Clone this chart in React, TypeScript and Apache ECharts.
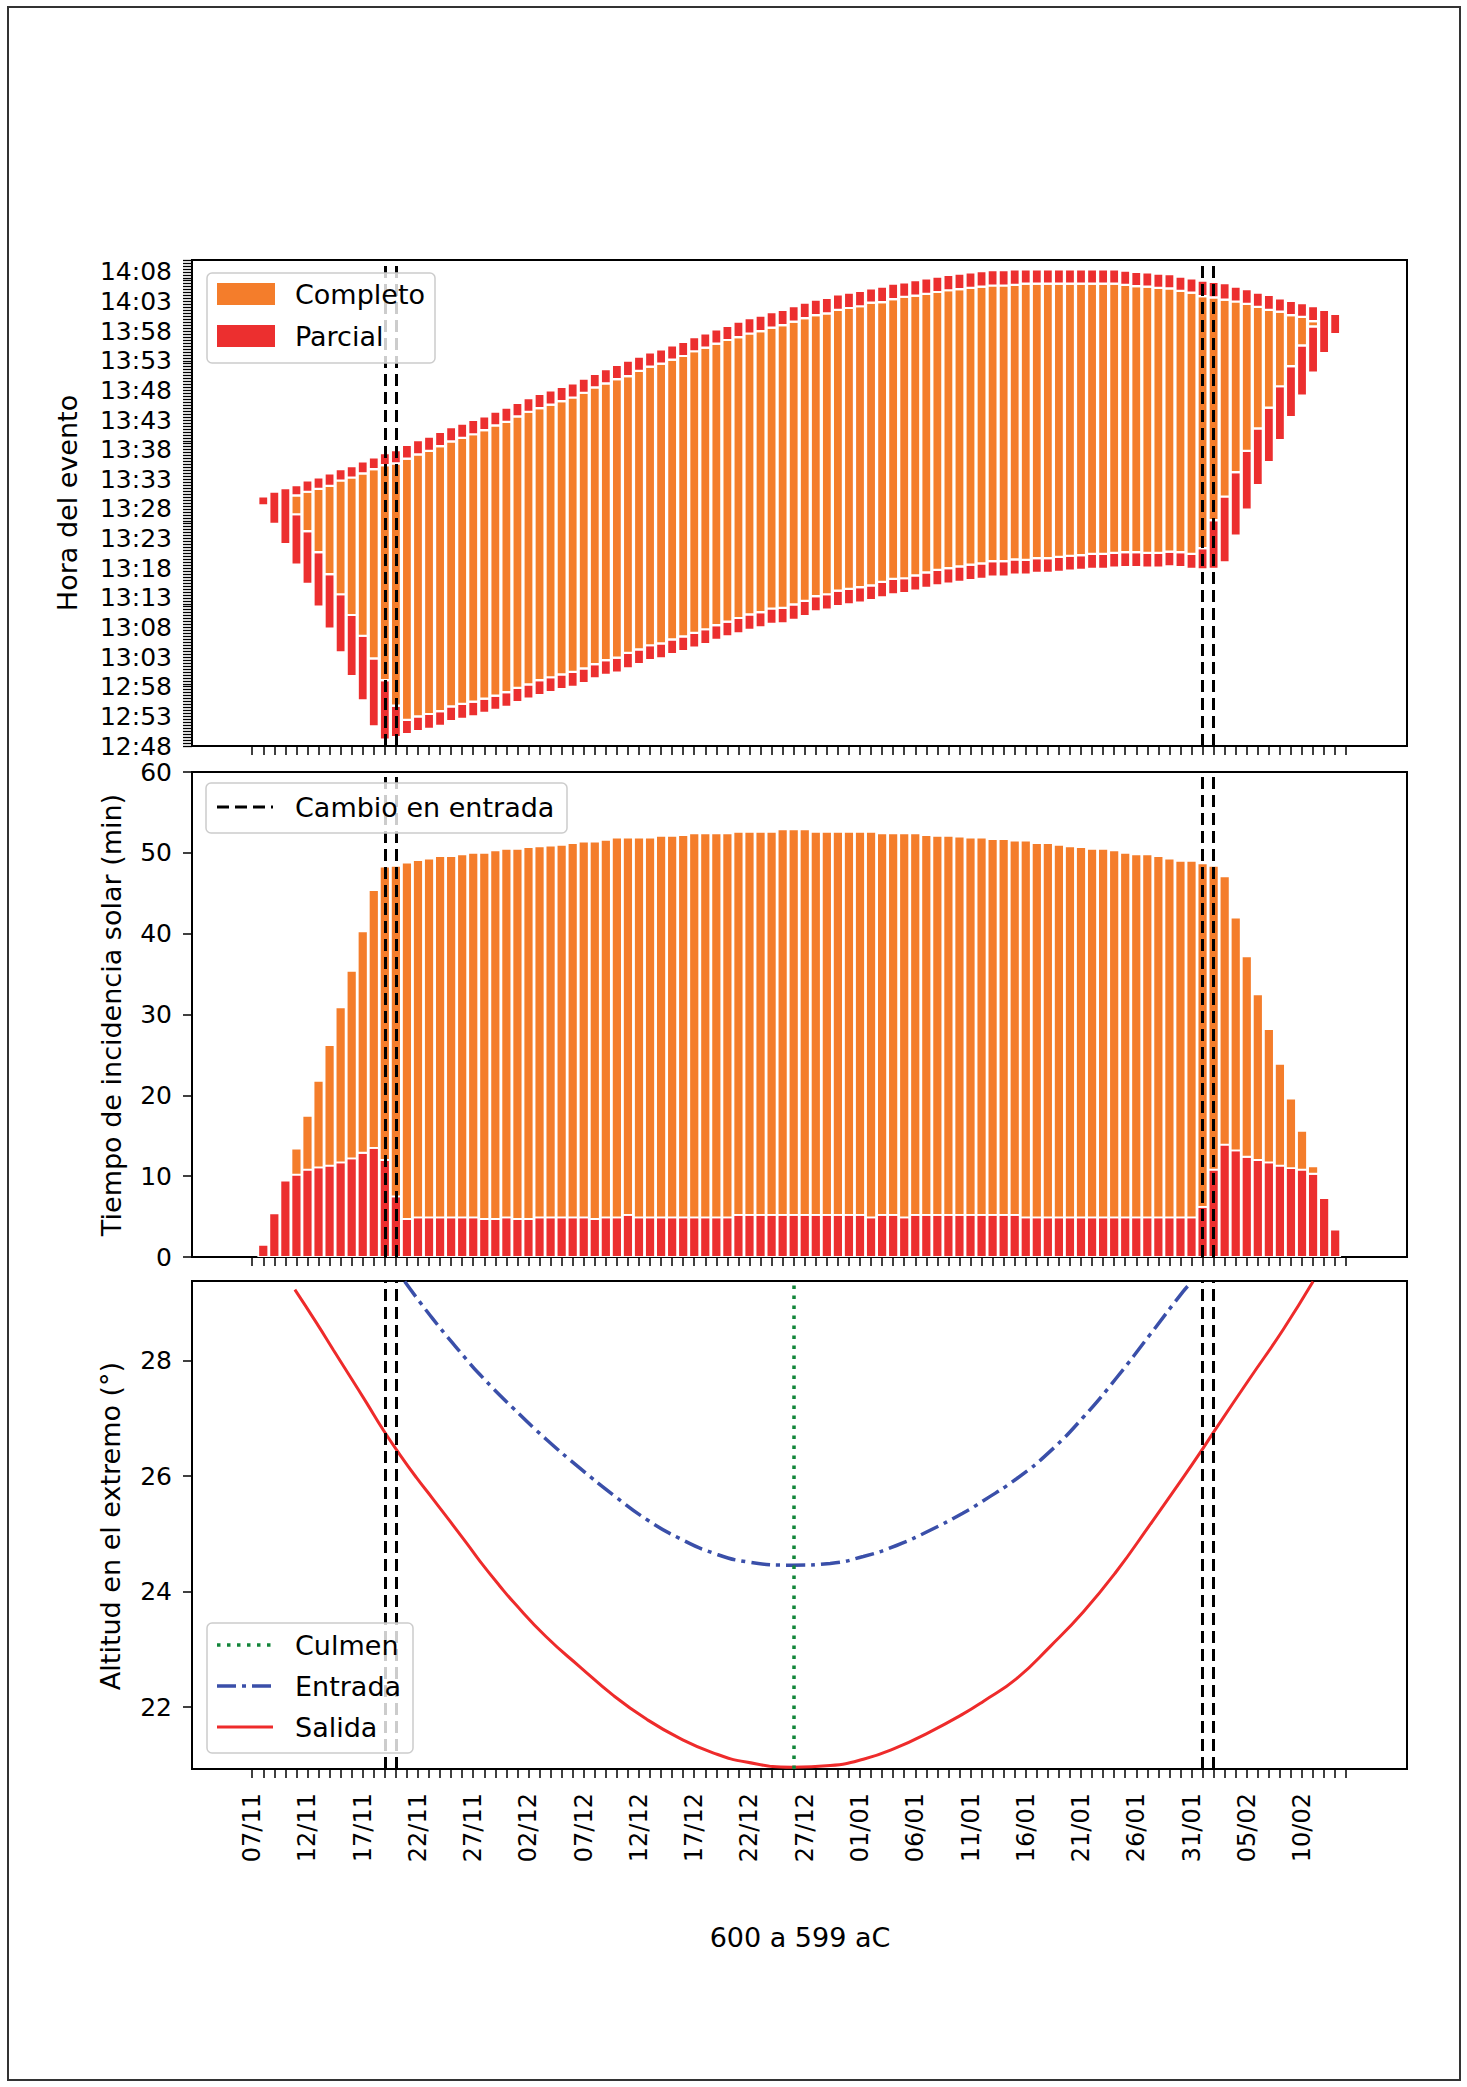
import React, { useEffect, useRef } from "react";
import * as echarts from "echarts";

const FONT = "DejaVu Sans";

// ---- x axis (days since 07/11) ----
const fechaLabels = [
  "07/11", "12/11", "17/11", "22/11", "27/11", "02/12", "07/12", "12/12", "17/12", "22/12",
  "27/12", "01/01", "06/01", "11/01", "16/01", "21/01", "26/01", "31/01", "05/02", "10/02",
];
const numTicksDias = 100;

// ---- y tick labels ----
const horaLabels = [
  "12:48", "12:53", "12:58", "13:03", "13:08", "13:13", "13:18", "13:23", "13:28",
  "13:33", "13:38", "13:43", "13:48", "13:53", "13:58", "14:03", "14:08",
];
const tiempoTicks = [0, 10, 20, 30, 40, 50, 60];
const altitudTicks = [22, 24, 26, 28];

// ---- panel 2: minutes of partial / complete incidence, days 1..98 ----
const parcial = [
  1.5, 5.4, 9.45, 10.2, 10.8, 11.1, 11.3, 11.7, 12.2, 12.9,
  13.5, 12.0, 7.5, 4.7, 4.9, 4.9, 4.9, 4.9, 4.9, 4.9,
  4.7, 4.7, 4.9, 4.7, 4.7, 4.9, 4.9, 4.9, 4.9, 4.9,
  4.7, 4.9, 4.9, 5.2, 4.9, 4.9, 4.9, 4.9, 4.9, 4.9,
  4.9, 4.9, 4.9, 5.2, 5.2, 5.2, 5.2, 5.2, 5.2, 5.2,
  5.2, 5.2, 5.2, 5.2, 5.2, 4.9, 5.2, 5.2, 4.9, 5.2,
  5.2, 5.2, 5.2, 5.2, 5.2, 5.2, 5.2, 5.2, 5.2, 4.9,
  4.9, 4.9, 4.9, 4.9, 4.9, 4.9, 4.9, 4.9, 4.9, 4.9,
  4.9, 4.9, 4.9, 4.9, 4.9, 6.2, 10.8, 13.9, 13.2, 12.4,
  12.0, 11.7, 11.3, 11.0, 10.8, 10.3, 7.3, 3.4,
];
const completo = [
  0, 0, 0, 3.2, 6.65, 10.7, 14.9, 19.2, 23.2, 27.4,
  31.9, 36.3, 40.9, 44.1, 44.2, 44.4, 44.7, 44.7, 44.9, 45.1,
  45.3, 45.6, 45.6, 45.8, 46.0, 45.9, 46.0, 46.1, 46.3, 46.5,
  46.7, 46.7, 47.0, 46.7, 47.0, 47.0, 47.2, 47.2, 47.3, 47.5,
  47.5, 47.5, 47.5, 47.4, 47.4, 47.4, 47.4, 47.7, 47.7, 47.7,
  47.4, 47.4, 47.4, 47.4, 47.4, 47.7, 47.2, 47.2, 47.5, 47.2,
  47.0, 46.9, 46.9, 46.8, 46.7, 46.7, 46.5, 46.5, 46.3, 46.6,
  46.3, 46.3, 46.1, 45.9, 45.8, 45.6, 45.6, 45.4, 45.1, 44.9,
  44.9, 44.7, 44.4, 44.1, 44.1, 42.5, 37.6, 33.2, 28.8, 24.8,
  20.5, 16.5, 12.6, 8.6, 4.8, 0.9, 0, 0,
];

// ---- panel 1: end time of the event (minutes after 12:00) and final partial block ----
const finEvento = [
  90.1, 90.9, 91.5, 92.0, 92.8, 93.3, 94.0, 94.7, 95.2, 96.0,
  96.7, 97.4, 97.9, 98.8, 99.6, 100.2, 101.0, 101.8, 102.4, 103.0,
  103.6, 104.4, 105.1, 105.9, 106.7, 107.4, 108.0, 108.6, 109.2, 110.0,
  110.8, 111.6, 112.3, 113.0, 113.7, 114.4, 114.9, 115.6, 116.2, 117.0,
  117.6, 118.3, 118.9, 119.6, 120.2, 120.6, 121.2, 121.6, 122.2, 122.8,
  123.3, 123.6, 124.2, 124.5, 124.8, 125.2, 125.5, 126.0, 126.2, 126.6,
  126.9, 127.2, 127.5, 127.7, 127.9, 128.1, 128.3, 128.3, 128.4, 128.4,
  128.4, 128.4, 128.4, 128.4, 128.4, 128.4, 128.4, 128.4, 128.2, 128.0,
  127.9, 127.7, 127.6, 127.2, 126.9, 126.5, 126.3, 126.1, 125.5, 125.1,
  124.5, 124.1, 123.5, 123.1, 122.7, 122.2, 121.6, 120.9,
];
const parcialFinal = [
  0, 0, 0, 1.7, 1.9, 1.9, 2.1, 1.9, 1.9, 2.0,
  2.0, 2.0, 2.2, 2.3, 2.4, 2.4, 2.4, 2.4, 2.4, 2.4,
  2.3, 2.3, 2.4, 2.3, 2.3, 2.4, 2.4, 2.4, 2.4, 2.4,
  2.3, 2.4, 2.4, 2.6, 2.4, 2.4, 2.4, 2.4, 2.4, 2.4,
  2.4, 2.4, 2.4, 2.6, 2.6, 2.6, 2.6, 2.6, 2.6, 2.6,
  2.6, 2.6, 2.6, 2.6, 2.6, 2.4, 2.6, 2.6, 2.4, 2.6,
  2.6, 2.6, 2.6, 2.6, 2.6, 2.6, 2.6, 2.6, 2.6, 2.4,
  2.4, 2.4, 2.4, 2.4, 2.4, 2.4, 2.4, 2.4, 2.4, 2.4,
  2.4, 2.4, 2.4, 2.4, 2.4, 2.6, 2.6, 2.8, 2.5, 2.5,
  2.4, 2.5, 2.2, 2.4, 2.3, 2.5, 0, 0,
];

// ---- panel 3: altitude at the extreme (degrees), [day, value] ----
const salida: [number, number][] = [
  [3.86, 29.23], [5.83, 28.65], [7.33, 28.19], [8.84, 27.73], [10.35, 27.27], [11.86, 26.8],
  [13.37, 26.37], [14.88, 25.97], [16.38, 25.6], [19.4, 24.84], [20.6, 24.53], [22.4, 24.1],
  [23.6, 23.83], [26.6, 23.22], [29.65, 22.7], [32.7, 22.2], [35.7, 21.79], [38.7, 21.46],
  [41.7, 21.21], [44.7, 21.05], [48.9, 20.96], [52.3, 20.99], [55.3, 21.1], [58.3, 21.3],
  [61.3, 21.57], [64.3, 21.88], [66.15, 22.1], [69.2, 22.5], [72.2, 23.05], [75.2, 23.65],
  [78.2, 24.35], [81.2, 25.15], [84.25, 25.98], [86.1, 26.5], [87.3, 26.85], [90.3, 27.7],
  [93.3, 28.54], [96.0, 29.37],
];
const entrada: [number, number][] = [
  [13.8, 29.37], [16.4, 28.71], [19.4, 28.02], [20.6, 27.76], [23.6, 27.18], [26.6, 26.64],
  [29.65, 26.14], [32.7, 25.67], [35.7, 25.25], [38.7, 24.92], [41.7, 24.67], [44.7, 24.52],
  [48.9, 24.46], [52.3, 24.49], [55.3, 24.61], [58.3, 24.8], [61.3, 25.06], [64.3, 25.36],
  [66.2, 25.58], [69.2, 25.96], [72.2, 26.43], [75.2, 27.02], [78.2, 27.7], [81.2, 28.44],
  [84.25, 29.2], [85.0, 29.36],
];
const cambioEntrada = [12, 13, 86, 87];
const culmen = 49;

const ORANGE = "#f47d2b";
const RED = "#ec2f2f";
const LINE_RED = "#ee2b2b";
const BLUE = "#3a4fa9";
const GREEN = "#12853a";

const X_MIN = -5.45;
const X_MAX = 104.5;
const Y1_MIN = 48;
const Y1_MAX = 130;
const Y3_MIN = 20.93;
const Y3_MAX = 29.38;
const BAR_W = 10;

const GRIDS = [
  { left: 192, top: 260, width: 1215, height: 486 },
  { left: 192, top: 772, width: 1215, height: 485 },
  { left: 192, top: 1281, width: 1215, height: 488 },
];

const horaAMin = (s: string) => {
  const [h, m] = s.split(":").map(Number);
  return (h - 12) * 60 + m;
};

const barRender = (color: string, edge: number) => (_params: any, api: any) => {
  const d = api.value(0);
  const lo = api.value(1);
  const hi = api.value(2);
  if (!(hi - lo > 0)) return null;
  const a = api.coord([d, lo]);
  const b = api.coord([d, hi]);
  return {
    type: "rect",
    shape: { x: a[0] - BAR_W / 2, y: b[1], width: BAR_W, height: a[1] - b[1] },
    style: { fill: color, stroke: "#ffffff", lineWidth: edge },
  };
};

export default function App() {
  const ref = useRef<HTMLDivElement>(null);

  useEffect(() => {
    document.body.style.margin = "0";
    if (!ref.current) return;
    const chart = echarts.init(ref.current, undefined, { renderer: "svg" });

    const dias = parcial.map((_, i) => i + 1);
    const tickDias = Array.from({ length: numTicksDias }, (_, i) => i);
    const labelDias = fechaLabels.map((_, i) => i * 5);
    const horaVals = horaLabels.map(horaAMin);
    const y1Ticks: number[] = [];
    for (let v = Y1_MIN; v <= Y1_MAX + 1e-9; v += 0.5) y1Ticks.push(v);

    // panel 1 segment boundaries
    const t3 = finEvento;
    const t2 = finEvento.map((f, i) => f - parcialFinal[i]);
    const t1 = t2.map((v, i) => v - completo[i]);
    const t0 = finEvento.map((f, i) => f - completo[i] - parcial[i]);
    const seg = (lo: number[], hi: number[]) => dias.map((d, i) => [d, lo[i], hi[i]]);
    const total = parcial.map((p, i) => p + completo[i]);
    const zeros = parcial.map(() => 0);

    const txt = { fontFamily: FONT, color: "#000" };

    const xAxis = (i: number, showLabels: boolean) => ({
      type: "value",
      gridIndex: i,
      min: X_MIN,
      max: X_MAX,
      axisLine: { show: true, onZero: false, lineStyle: { color: "#000", width: 2 } },
      axisTick: {
        show: true,
        customValues: tickDias,
        length: 9,
        lineStyle: { color: "#000", width: 1.5 },
      },
      axisLabel: {
        show: showLabels,
        customValues: labelDias,
        rotate: 90,
        margin: 24,
        fontSize: 24,
        ...txt,
        formatter: (v: number) => fechaLabels[Math.round(v / 5)] ?? "",
      },
      splitLine: { show: false },
    });

    const yBase = (i: number) => ({
      type: "value",
      gridIndex: i,
      axisLine: { show: true, onZero: false, lineStyle: { color: "#000", width: 2 } },
      splitLine: { show: false },
    });

    const dashedLine = {
      silent: true,
      symbol: ["none", "none"],
      label: { show: false },
      emphasis: { disabled: true },
      lineStyle: { color: "#000", type: [12, 6], width: 3 },
      data: cambioEntrada.map((x) => ({ xAxis: x })),
    };

    const custom = (name: string, gi: number, color: string, edge: number, data: number[][]) => ({
      type: "custom",
      name,
      xAxisIndex: gi,
      yAxisIndex: gi,
      silent: true,
      clip: true,
      renderItem: barRender(color, edge),
      encode: { x: 0, y: [1, 2] },
      data,
    });

    const hiddenLine = (gi: number, values: number[]) => ({
      type: "line",
      xAxisIndex: gi,
      yAxisIndex: gi,
      silent: true,
      showSymbol: false,
      z: 5,
      lineStyle: { opacity: 0, width: 0 },
      data: dias.map((d, i) => [d, values[i]]),
      markLine: dashedLine,
    });

    const option: any = {
      animation: false,
      backgroundColor: "#fff",
      grid: GRIDS.map((g) => ({
        ...g,
        show: true,
        borderColor: "#000",
        borderWidth: 2,
        backgroundColor: "transparent",
        containLabel: false,
      })),
      xAxis: [xAxis(0, false), xAxis(1, false), xAxis(2, true)],
      yAxis: [
        {
          ...yBase(0),
          min: Y1_MIN,
          max: Y1_MAX,
          axisTick: { show: true, customValues: y1Ticks, length: 9, lineStyle: { color: "#000", width: 1.3 } },
          axisLabel: {
            customValues: horaVals,
            margin: 20,
            fontSize: 25,
            ...txt,
            formatter: (v: number) => {
              let best = 0;
              horaVals.forEach((h, k) => {
                if (Math.abs(h - v) < Math.abs(horaVals[best] - v)) best = k;
              });
              return horaLabels[best];
            },
          },
        },
        {
          ...yBase(1),
          min: 0,
          max: 60,
          axisTick: { show: true, customValues: tiempoTicks, length: 9, lineStyle: { color: "#000", width: 1.5 } },
          axisLabel: { customValues: tiempoTicks, margin: 20, fontSize: 25, ...txt },
        },
        {
          ...yBase(2),
          min: Y3_MIN,
          max: Y3_MAX,
          axisTick: { show: true, customValues: altitudTicks, length: 9, lineStyle: { color: "#000", width: 1.5 } },
          axisLabel: { customValues: altitudTicks, margin: 20, fontSize: 25, ...txt },
        },
      ],
      series: [
        // panel 1: time of the event
        custom("Parcial (inicio)", 0, RED, 2.2, seg(t0, t1)),
        custom("Completo", 0, ORANGE, 2.2, seg(t1, t2)),
        custom("Parcial (fin)", 0, RED, 2.2, seg(t2, t3)),
        hiddenLine(0, t3),
        // panel 2: durations
        custom("Parcial", 1, RED, 1.8, seg(zeros, parcial)),
        custom("Completo (min)", 1, ORANGE, 1.8, seg(parcial, total)),
        hiddenLine(1, total),
        // panel 3: altitudes
        {
          type: "line",
          name: "Entrada",
          xAxisIndex: 2,
          yAxisIndex: 2,
          data: entrada,
          showSymbol: false,
          smooth: 0.5,
          clip: true,
          silent: true,
          lineStyle: { color: BLUE, width: 3.5, type: [19, 6, 4, 6] },
        },
        {
          type: "line",
          name: "Salida",
          xAxisIndex: 2,
          yAxisIndex: 2,
          data: salida,
          showSymbol: false,
          smooth: 0.5,
          clip: true,
          silent: true,
          lineStyle: { color: LINE_RED, width: 3 },
          markLine: {
            ...dashedLine,
            data: [
              ...cambioEntrada.map((x) => ({ xAxis: x })),
              { xAxis: culmen, lineStyle: { color: GREEN, type: [3.5, 6.5], width: 3.5 } },
            ],
          },
        },
      ],
      graphic: [
        {
          type: "rect",
          z: 50,
          silent: true,
          shape: { x: 8, y: 7, width: 1452, height: 2073 },
          style: { fill: "none", stroke: "#333", lineWidth: 2 },
        },
        {
          type: "text",
          z: 50,
          x: 67,
          y: 503,
          rotation: Math.PI / 2,
          style: { text: "Hora del evento", fontFamily: FONT, fontSize: 27, fill: "#000", align: "center", verticalAlign: "middle", textAlign: "center", textVerticalAlign: "middle" },
        },
        {
          type: "text",
          z: 50,
          x: 111,
          y: 1015,
          rotation: Math.PI / 2,
          style: { text: "Tiempo de incidencia solar (min)", fontFamily: FONT, fontSize: 27, fill: "#000", align: "center", verticalAlign: "middle", textAlign: "center", textVerticalAlign: "middle" },
        },
        {
          type: "text",
          z: 50,
          x: 110,
          y: 1526,
          rotation: Math.PI / 2,
          style: { text: "Altitud en el extremo (°)", fontFamily: FONT, fontSize: 27, fill: "#000", align: "center", verticalAlign: "middle", textAlign: "center", textVerticalAlign: "middle" },
        },
        {
          type: "text",
          z: 50,
          x: 800,
          y: 1937,
          style: { text: "600 a 599 aC", fontFamily: FONT, fontSize: 27, fill: "#000", align: "center", verticalAlign: "middle", textAlign: "center", textVerticalAlign: "middle" },
        },
        {
          type: "group",
          z: 60,
          children: [
            { type: "rect", z: 60, shape: { x: 207, y: 273, width: 228, height: 90, r: 5 }, style: { fill: "rgba(255,255,255,0.8)", stroke: "#cccccc", lineWidth: 1.5 } },
            { type: "rect", z: 61, shape: { x: 217, y: 283, width: 58, height: 22 }, style: { fill: ORANGE } },
            { type: "rect", z: 61, shape: { x: 217, y: 325, width: 58, height: 22 }, style: { fill: RED } },
            { type: "text", z: 61, x: 295, y: 294, style: { text: "Completo", fontFamily: FONT, fontSize: 27, fill: "#000", align: "left", verticalAlign: "middle", textAlign: "left", textVerticalAlign: "middle" } },
            { type: "text", z: 61, x: 295, y: 336, style: { text: "Parcial", fontFamily: FONT, fontSize: 27, fill: "#000", align: "left", verticalAlign: "middle", textAlign: "left", textVerticalAlign: "middle" } },
          ],
        },
        {
          type: "group",
          z: 60,
          children: [
            { type: "rect", z: 60, shape: { x: 206, y: 783, width: 361, height: 50, r: 5 }, style: { fill: "rgba(255,255,255,0.8)", stroke: "#cccccc", lineWidth: 1.5 } },
            { type: "line", z: 61, shape: { x1: 217, y1: 807, x2: 273, y2: 807 }, style: { stroke: "#000", lineWidth: 3, lineDash: [12, 6] } },
            { type: "text", z: 61, x: 295, y: 807, style: { text: "Cambio en entrada", fontFamily: FONT, fontSize: 27, fill: "#000", align: "left", verticalAlign: "middle", textAlign: "left", textVerticalAlign: "middle" } },
          ],
        },
        {
          type: "group",
          z: 60,
          children: [
            { type: "rect", z: 60, shape: { x: 207, y: 1623, width: 206, height: 130, r: 5 }, style: { fill: "rgba(255,255,255,0.8)", stroke: "#cccccc", lineWidth: 1.5 } },
            { type: "line", z: 61, shape: { x1: 217, y1: 1645, x2: 273, y2: 1645 }, style: { stroke: GREEN, lineWidth: 3.5, lineDash: [3.5, 6.5] } },
            { type: "line", z: 61, shape: { x1: 217, y1: 1686, x2: 273, y2: 1686 }, style: { stroke: BLUE, lineWidth: 3.5, lineDash: [19, 6, 4, 6] } },
            { type: "line", z: 61, shape: { x1: 217, y1: 1727, x2: 273, y2: 1727 }, style: { stroke: LINE_RED, lineWidth: 3 } },
            { type: "text", z: 61, x: 295, y: 1645, style: { text: "Culmen", fontFamily: FONT, fontSize: 27, fill: "#000", align: "left", verticalAlign: "middle", textAlign: "left", textVerticalAlign: "middle" } },
            { type: "text", z: 61, x: 295, y: 1686, style: { text: "Entrada", fontFamily: FONT, fontSize: 27, fill: "#000", align: "left", verticalAlign: "middle", textAlign: "left", textVerticalAlign: "middle" } },
            { type: "text", z: 61, x: 295, y: 1727, style: { text: "Salida", fontFamily: FONT, fontSize: 27, fill: "#000", align: "left", verticalAlign: "middle", textAlign: "left", textVerticalAlign: "middle" } },
          ],
        },
      ],
    };

    chart.setOption(option);
    return () => chart.dispose();
  }, []);

  return <div ref={ref} style={{ width: 1467, height: 2087 }} />;
}
